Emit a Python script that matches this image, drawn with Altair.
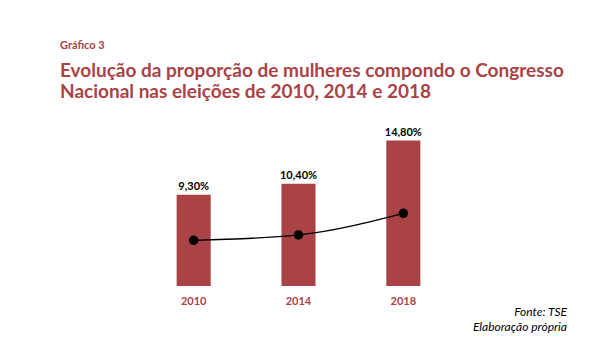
import altair as alt
import pandas as pd

years = ["2010", "2014", "2018"]
bar_values = [9.3, 10.4, 14.8]
bar_labels = ["9,30%", "10,40%", "14,80%"]
line_values = [4.65, 5.2, 7.4]
footer = ["Fonte: TSE", "Elaboração própria"]

RED = "#A94346"
FONT = "Lato"

df = pd.DataFrame({"ano": years, "valor": bar_values, "rotulo": bar_labels, "linha": line_values})
foot1 = pd.DataFrame({"t": [footer[0]]})
foot2 = pd.DataFrame({"t": [footer[1]]})

W, H = 507, 167
x = alt.X("ano:N", scale=alt.Scale(range=[81, 396], paddingInner=0.675, paddingOuter=0.34),
          axis=alt.Axis(title=None, domain=False, ticks=False, labelAngle=0, labelColor=RED,
                        labelFont=FONT, labelFontSize=11, labelFontWeight="bold", labelPadding=9))
ysc = alt.Scale(domain=[0, 17])
y = alt.Y("valor:Q", scale=ysc, axis=None)

bars = alt.Chart(df).mark_bar(color=RED).encode(x=x, y=y)
labels = alt.Chart(df).mark_text(font=FONT, fontSize=11, fontWeight="bold", color="black", dy=-8).encode(
    x=x, y=y, text="rotulo:N")
line = alt.Chart(df).mark_line(color="black", strokeWidth=1.3, interpolate="monotone").encode(
    x=x, y=alt.Y("linha:Q", scale=ysc, axis=None))
pts = alt.Chart(df).mark_point(filled=True, color="black", size=90, opacity=1).encode(
    x=x, y=alt.Y("linha:Q", scale=ysc, axis=None))
f1 = alt.Chart(foot1).mark_text(font=FONT, fontSize=12, fontStyle="italic", color="black", align="right").encode(
    x=alt.value(W), y=alt.value(H + 26), text="t:N")
f2 = alt.Chart(foot2).mark_text(font=FONT, fontSize=12, fontStyle="italic", color="black", align="right").encode(
    x=alt.value(W), y=alt.value(H + 41), text="t:N")

chart = alt.layer(bars, labels, line, pts, f1, f2).properties(
    width=W, height=H,
    padding={"left": 52, "top": 32, "right": 10, "bottom": 5},
    title=alt.TitleParams(
        text="Gráfico 3",
        subtitle=["Evolução da proporção de mulheres compondo o Congresso",
                  "Nacional nas eleições de 2010, 2014 e 2018"],
        anchor="start", color=RED, font=FONT, fontSize=11, fontWeight="bold",
        subtitleColor=RED, subtitleFont=FONT, subtitleFontSize=19, subtitleFontWeight="bold",
        subtitleLineHeight=21, subtitlePadding=11, offset=17),
).configure_view(stroke=None)

chart.save("out.html", embed_options={"renderer": "svg", "actions": False})
